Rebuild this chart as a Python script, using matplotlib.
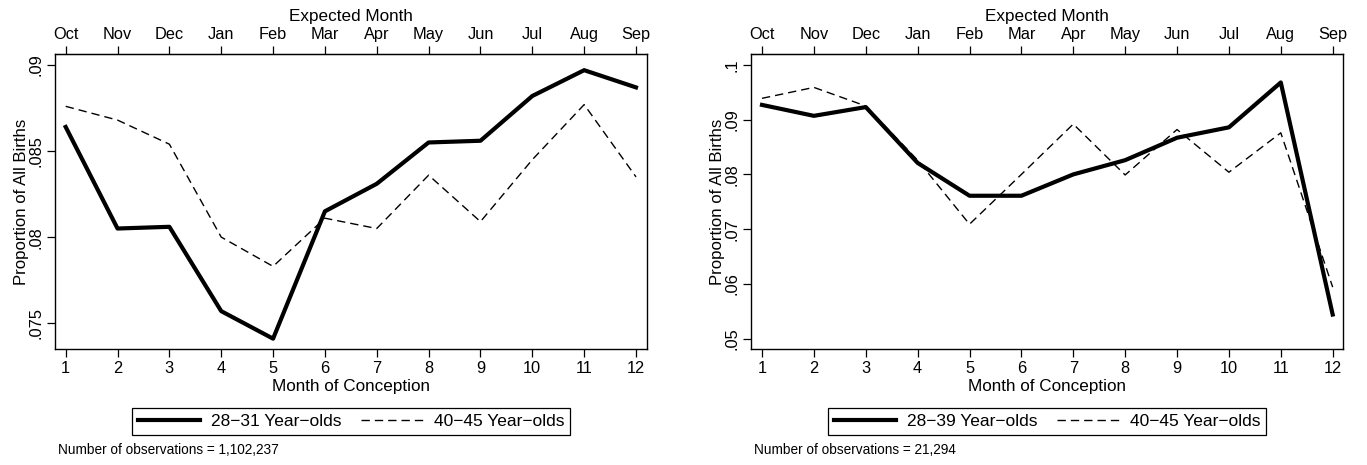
import matplotlib.pyplot as plt

months = [1, 2, 3, 4, 5, 6, 7, 8, 9, 10, 11, 12]
expected = ['Oct', 'Nov', 'Dec', 'Jan', 'Feb', 'Mar', 'Apr', 'May', 'Jun', 'Jul', 'Aug', 'Sep']

# left panel: share of births by month of conception
young_left = [0.0864, 0.0805, 0.0806, 0.0757, 0.0741, 0.0815, 0.0831, 0.0855, 0.0856, 0.0882, 0.0897, 0.0887]
old_left = [0.0876, 0.0868, 0.0854, 0.0800, 0.0783, 0.0811, 0.0805, 0.0836, 0.0809, 0.0845, 0.0877, 0.0835]
# right panel
young_right = [0.0927, 0.0907, 0.0923, 0.0821, 0.0761, 0.0761, 0.0800, 0.0826, 0.0867, 0.0886, 0.0968, 0.0544]
old_right = [0.0939, 0.0959, 0.0925, 0.0826, 0.0709, 0.0800, 0.0892, 0.0799, 0.0882, 0.0804, 0.0876, 0.0594]

left_ticks = [0.075, 0.08, 0.085, 0.09]
left_ticklabels = ['.075', '.08', '.085', '.09']
right_ticks = [0.05, 0.06, 0.07, 0.08, 0.09, 0.1]
right_ticklabels = ['.05', '.06', '.07', '.08', '.09', '.1']

plt.rcParams['font.family'] = 'Liberation Sans'

W, H = 1367, 465
TOP, BOTTOM = 54, 349
fig = plt.figure(figsize=(W / 100, H / 100), dpi=100)


def panel(x0, x1, young, old, yticks, yticklabels, ylim, xlim, young_label, note):
    ax = fig.add_axes([x0 / W, 1 - BOTTOM / H, (x1 - x0) / W, (BOTTOM - TOP) / H])
    ax.plot(months, young, color='black', lw=3, label=young_label)
    ax.plot(months, old, color='black', lw=1, dashes=(6, 3.6), label='40\u221245 Year\u2212olds')
    ax.set_xlim(*xlim)
    ax.set_ylim(*ylim)
    ax.set_xticks(months)
    ax.set_xticklabels([str(m) for m in months], fontsize=11.8)
    ax.set_yticks(yticks)
    ax.set_yticklabels(yticklabels, rotation=90, va='center', fontsize=11.8)
    ax.tick_params(direction='out', length=6, width=0.9, pad=2.5)
    ax.tick_params(axis='y', pad=2)
    ax.set_ylabel('Proportion of All Births', fontsize=12.1)
    ax.yaxis.set_label_coords(-26 / (x1 - x0), 0.5)
    for s in ax.spines.values():
        s.set_linewidth(1.0)

    top = ax.secondary_xaxis('top')
    top.set_xticks(months)
    top.set_xticklabels(expected, fontsize=11.8)
    top.tick_params(direction='out', length=6, width=0.9, pad=2.5)

    cx = (x0 + x1) / 2
    fig.text(cx / W, 1 - 21 / H, 'Expected Month', fontsize=12.3, ha='center', va='baseline')
    fig.text(cx / W, 1 - 391 / H, 'Month of Conception', fontsize=12.3, ha='center', va='baseline')

    leg = fig.legend(*ax.get_legend_handles_labels(), loc='center',
                     bbox_to_anchor=(cx / W, 1 - 421.5 / H), ncol=2,
                     frameon=True, fancybox=False, edgecolor='black', framealpha=1,
                     handlelength=3.6, handletextpad=0.62, columnspacing=1.1,
                     borderpad=0.32, borderaxespad=0, fontsize=12.5)
    leg.get_frame().set_linewidth(0.9)
    fig.text((x0 + 3) / W, 1 - 450 / H, note, fontsize=9.8, va='center')
    return ax


panel(55, 647, young_left, old_left, left_ticks, left_ticklabels, (0.0735, 0.09064),
      (0.794, 12.212), '28\u221231 Year\u2212olds', 'Number of observations = 1,102,237')
panel(751, 1343, young_right, old_right, right_ticks, right_ticklabels, (0.0481, 0.1020),
      (0.788, 12.199), '28\u221239 Year\u2212olds', 'Number of observations = 21,294')

fig.savefig('out.png', dpi=100)
